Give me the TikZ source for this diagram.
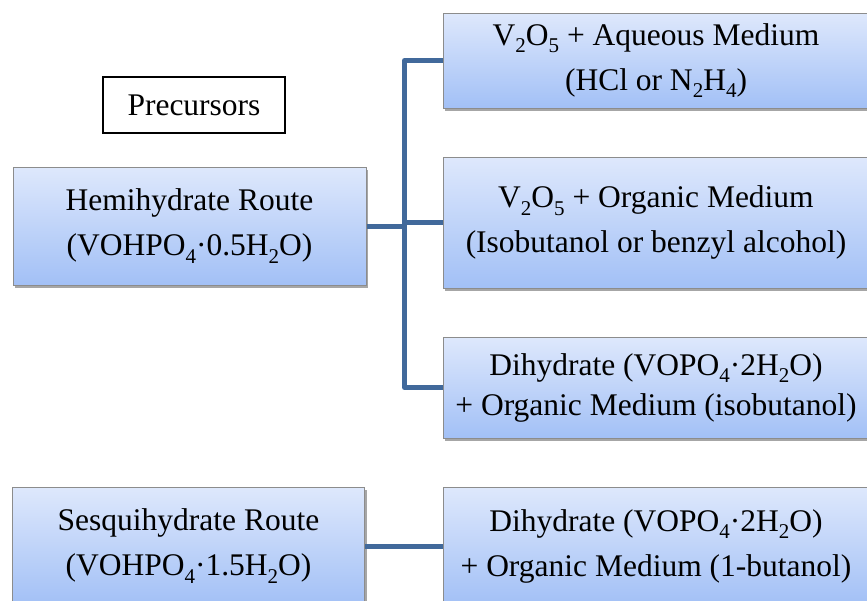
\documentclass[tikz,border=0pt]{standalone}
\usepackage{fontspec}
\setmainfont{Liberation Serif}
\usepackage{tikz}
\usetikzlibrary{shadows}

\definecolor{linkblue}{RGB}{65,105,155}
\definecolor{boxtop}{RGB}{222,232,252}
\definecolor{boxbottom}{RGB}{162,192,246}
\definecolor{boxedge}{RGB}{140,140,140}

\newcommand{\chemsub}[1]{\raisebox{-0.24em}{\fontsize{21}{21}\selectfont #1}}

\begin{document}
\begin{tikzpicture}[x=1pt,y=-1pt,
    every node/.style={font=\fontsize{31.5}{45}\selectfont,align=center,inner sep=0pt},
    route/.style={draw=boxedge,line width=1pt,top color=boxtop,bottom color=boxbottom,
      drop shadow={shadow xshift=2pt,shadow yshift=-3pt,fill=black,opacity=0.35}},
    link/.style={draw=linkblue,line width=5pt,line join=round}]

    \useasboundingbox (0,0) rectangle (867,600);

    \node[draw=black,line width=1.5pt,fill=white,minimum width=182pt,minimum height=56pt]
    (prec) at (194,105) {Precursors};

    \node[route,minimum width=353pt,minimum height=118pt] (hemi) at (189.5,226)
    {Hemihydrate Route\\
      (VOHPO\chemsub{4}·0.5H\chemsub{2}O)};

    \node[route,minimum width=352pt,minimum height=118pt] (sesqui) at (188.5,546)
    {Sesquihydrate Route\\
      (VOHPO\chemsub{4}·1.5H\chemsub{2}O)};



    \node[route,minimum width=426pt,minimum height=95pt] (aq) at (656,60.5)
    {V\chemsub{2}O\chemsub{5} + Aqueous Medium\\
      (HCl or N\chemsub{2}H\chemsub{4})};

    \node[route,minimum width=426pt,minimum height=131pt] (org) at (656,222.5)
    {V\chemsub{2}O\chemsub{5} + Organic Medium\\
      (Isobutanol or benzyl alcohol)};

    \node[route,minimum width=426pt,minimum height=101pt] (dih) at (656,387.5)
    {Dihydrate (VOPO\chemsub{4}·2H\chemsub{2}O)\\[-5pt]
      + Organic Medium (isobutanol)};

    \node[route,minimum width=426pt,minimum height=118pt] (buta) at (656,546)
    {Dihydrate (VOPO\chemsub{4}·2H\chemsub{2}O)\\
      + Organic Medium (1-butanol)};



    \draw[link] (hemi.east) -- ++(38,0) coordinate (trunk);

    \draw[link] (aq.west) -| (trunk) |- (dih.west);

    \draw[link] (trunk |- org.west) -- (org.west);

    \draw[link] (sesqui.east) -- (buta.west);

\end{tikzpicture}
\end{document}
